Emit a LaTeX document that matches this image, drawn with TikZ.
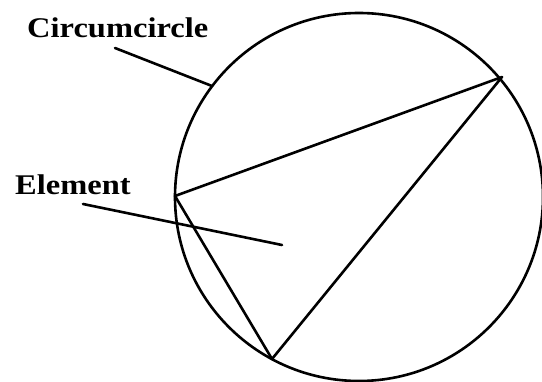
\documentclass[tikz,border=0pt]{standalone}
\usepackage{fontspec}
\usepackage{graphicx}
\setmainfont{Liberation Serif}
\newcommand{\widetxt}[1]{\scalebox{1.14}[1]{#1}}
\begin{document}
\begin{tikzpicture}[x=1pt,y=-1pt,
  line/.style={line width=2.6pt,line join=round,line cap=round},
  lbl/.style={font=\bfseries\fontsize{28.5}{28.5}\selectfont,inner sep=0pt,anchor=base west}]
\useasboundingbox (0,0) rectangle (542,382);
\node[draw,line width=2.6pt,circle,minimum size=368pt,inner sep=0pt] (cc) at (359,197) {};
\coordinate (A) at (502,77);
\coordinate (B) at (175,196);
\coordinate (C) at (272,359);
\draw[line] (A) -- (B) -- (C) -- cycle;
\node[lbl] (lc) at (27,38) {\widetxt{Circumcircle}};
\node[lbl] (le) at (15,195) {\widetxt{Element}};
\coordinate (c1) at (115,48);
\coordinate (c2) at (212,86);
\coordinate (e1) at (83,204);
\coordinate (e2) at (282,245);
\draw[line] (c1) -- (c2);
\draw[line] (e1) -- (e2);
\end{tikzpicture}
\end{document}
